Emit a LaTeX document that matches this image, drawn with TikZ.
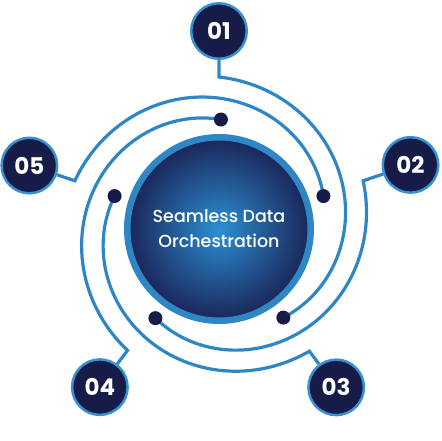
\documentclass[tikz,border=0pt]{standalone}
\usepackage{fontspec}
\setmainfont{Poppins}
\newfontfamily\hubfont{Poppins Medium}
\usetikzlibrary{calc,positioning,backgrounds}
\definecolor{navy}{HTML}{161B47}
\definecolor{wire}{HTML}{2F86C4}
\definecolor{rim}{HTML}{3A91D2}
\definecolor{glow}{HTML}{2C8FD3}
\definecolor{deep}{HTML}{1A2558}

\begin{document}
\begin{tikzpicture}[x=1pt, y=1pt, wire/.style={draw=wire, line width=3.2pt}]
\tikzstyle{badge}=[circle, fill=navy, draw=rim, line width=2.5pt, minimum size=55.5pt, inner sep=0pt, text=white, font=\bfseries\fontsize{23}{23}\selectfont]
\tikzstyle{dot}=[circle, fill=navy, minimum size=14pt, inner sep=0pt]
\useasboundingbox (-219,-211) rectangle (223,229);
\node[circle, draw=wire, line width=6.5pt, minimum size=183.5pt, inner color=glow, outer color=deep, text=white, align=center, font=\hubfont\fontsize{17.5}{25}\selectfont] (hub) at (0,0) {Seamless Data\\Orchestration};
\foreach \i/\a/\r in {1/90/198, 2/18.5/202, 3/-53.5/197, 4/-127/198, 5/161.5/200}{
  \node[badge] (b\i) at (\a:\r) {0\i};
  \coordinate (k\i) at (\a:152);
  \node[dot] (d\i) at (\a-144:109.5) {};
}
% wires run clockwise and wind inwards
\begin{scope}[on background layer]
\foreach \i/\a in {1/90, 2/18.5, 3/-53.5, 4/-127, 5/161.5}{
  \draw[wire] (b\i) -- (k\i) -- plot[domain=0:144, samples=80] ({\a-\x}:{152-42.5*\x/144}) -- (d\i.center);
}
\end{scope}
\end{tikzpicture}
\end{document}
